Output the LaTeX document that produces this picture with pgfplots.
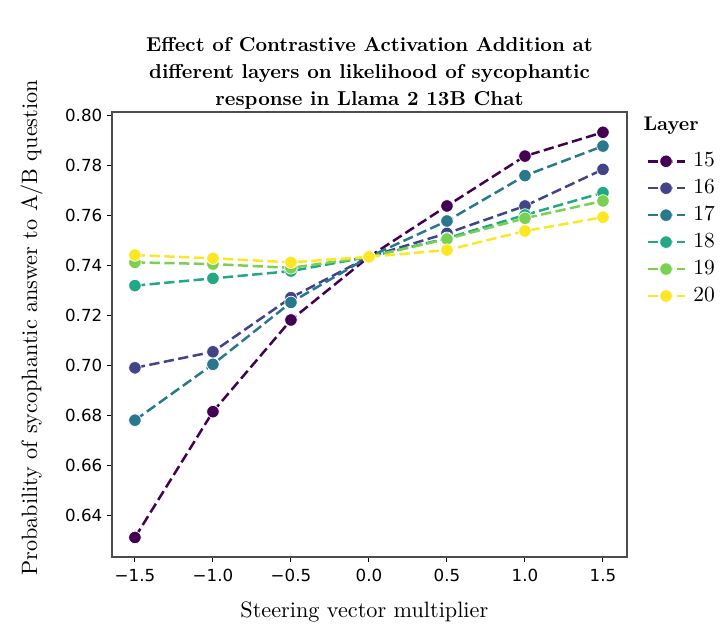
\documentclass[border=0pt]{standalone}
\usepackage{pgfplots}
\pgfplotsset{compat=1.18}
\usepackage{fontspec}
\setmainfont{lmroman10-regular}[Extension=.otf, BoldFont=lmroman10-bold, ItalicFont=lmroman10-italic]
\newfontfamily\dejavu{DejaVu Sans}
\definecolor{c15}{HTML}{440154}
\definecolor{c16}{HTML}{414487}
\definecolor{c17}{HTML}{2A788E}
\definecolor{c18}{HTML}{22A884}
\definecolor{c19}{HTML}{7AD151}
\definecolor{c20}{HTML}{FDE725}
\pgfplotsset{
  mk/.style={color=#1, mark options={solid, fill=#1, draw=white, line width=0.5pt}},
}
\begin{document}
\begin{tikzpicture}
\useasboundingbox (-80.64pt,-48.96pt) rectangle (437.76pt,401.04pt);
\begin{axis}[
  at={(0,0)}, anchor=south west,
  width=370.8pt, height=320.4pt, scale only axis,
  clip mode=individual,
  xmin=-1.647, xmax=1.654, ymin=0.6236, ymax=0.8012,
  xtick={-1.5,-1,-0.5,0,0.5,1,1.5},
  xticklabels={−1.5,−1.0,−0.5,0.0,0.5,1.0,1.5},
  ytick={0.64,0.66,0.68,0.70,0.72,0.74,0.76,0.78,0.80},
  yticklabels={0.64,0.66,0.68,0.70,0.72,0.74,0.76,0.78,0.80},
  ticklabel style={font=\dejavu\fontsize{12}{14}\selectfont},
  xticklabel style={yshift=-2pt},
  tick align=outside, xtick pos=bottom, ytick pos=left,
  major tick length=3.5pt,
  every tick/.style={black, line width=0.7pt},
  axis line style={black!70, line width=0.9pt},
  xlabel={Steering vector multiplier},
  ylabel={Probability of sycophantic answer to A/B question},
  label style={font=\fontsize{16}{19}\selectfont},
  xlabel style={at={(axis description cs:0.49,-0.137)}, anchor=base},
  ylabel style={at={(axis description cs:-0.1456,0.515)}, anchor=base, rotate=0},
  title={Effect of Contrastive Activation Addition at\\different layers on likelihood of sycophantic\\response in Llama 2 13B Chat},
  title style={at={(axis description cs:0.5,1)}, anchor=south, align=center,
    font=\bfseries\fontsize{14.5}{19.6}\selectfont, yshift=-8pt},
  legend style={at={(axis description cs:1.037,0.9117)}, anchor=north west, draw=none, fill=none,
    font=\fontsize{15.5}{19.4}\selectfont, row sep=5.4pt, inner sep=0pt,
    nodes={inner sep=0pt, text height=11pt, text depth=3pt}},
  legend cell align=left,
  legend image code/.code={%
    \draw[#1] (0pt,0pt) -- (26.6pt,0pt);
    \draw[#1, only marks] plot coordinates {(13.3pt,0pt)};
    \path (32pt,0pt);},
  every axis plot/.append style={line width=1.8pt, dash pattern=on 7.4pt off 3.2pt,
    mark=*, mark size=4.5pt},
]
\addplot[mk=c15] coordinates {(-1.5,0.6314) (-1,0.6816) (-0.5,0.7182) (0,0.7434) (0.5,0.7637) (1,0.7836) (1.5,0.7931)};
\addlegendentry{15}
\addplot[mk=c16] coordinates {(-1.5,0.6991) (-1,0.7055) (-0.5,0.7271) (0,0.7434) (0.5,0.7528) (1,0.7637) (1.5,0.7783)};
\addlegendentry{16}
\addplot[mk=c17] coordinates {(-1.5,0.6782) (-1,0.7005) (-0.5,0.7252) (0,0.7434) (0.5,0.7577) (1,0.7758) (1.5,0.7876)};
\addlegendentry{17}
\addplot[mk=c18] coordinates {(-1.5,0.7319) (-1,0.7348) (-0.5,0.7377) (0,0.7434) (0.5,0.7508) (1,0.7601) (1.5,0.7690)};
\addlegendentry{18}
\addplot[mk=c19] coordinates {(-1.5,0.7412) (-1,0.7405) (-0.5,0.7390) (0,0.7434) (0.5,0.7505) (1,0.7588) (1.5,0.7657)};
\addlegendentry{19}
\addplot[mk=c20] coordinates {(-1.5,0.7441) (-1,0.7428) (-0.5,0.7412) (0,0.7434) (0.5,0.7461) (1,0.7537) (1.5,0.7592)};
\addlegendentry{20}
\node[anchor=base west, font=\bfseries\fontsize{14.2}{17}\selectfont, inner sep=0pt]
  at (axis description cs:1.0315,0.9573) {Layer};
\end{axis}
\end{tikzpicture}
\end{document}
